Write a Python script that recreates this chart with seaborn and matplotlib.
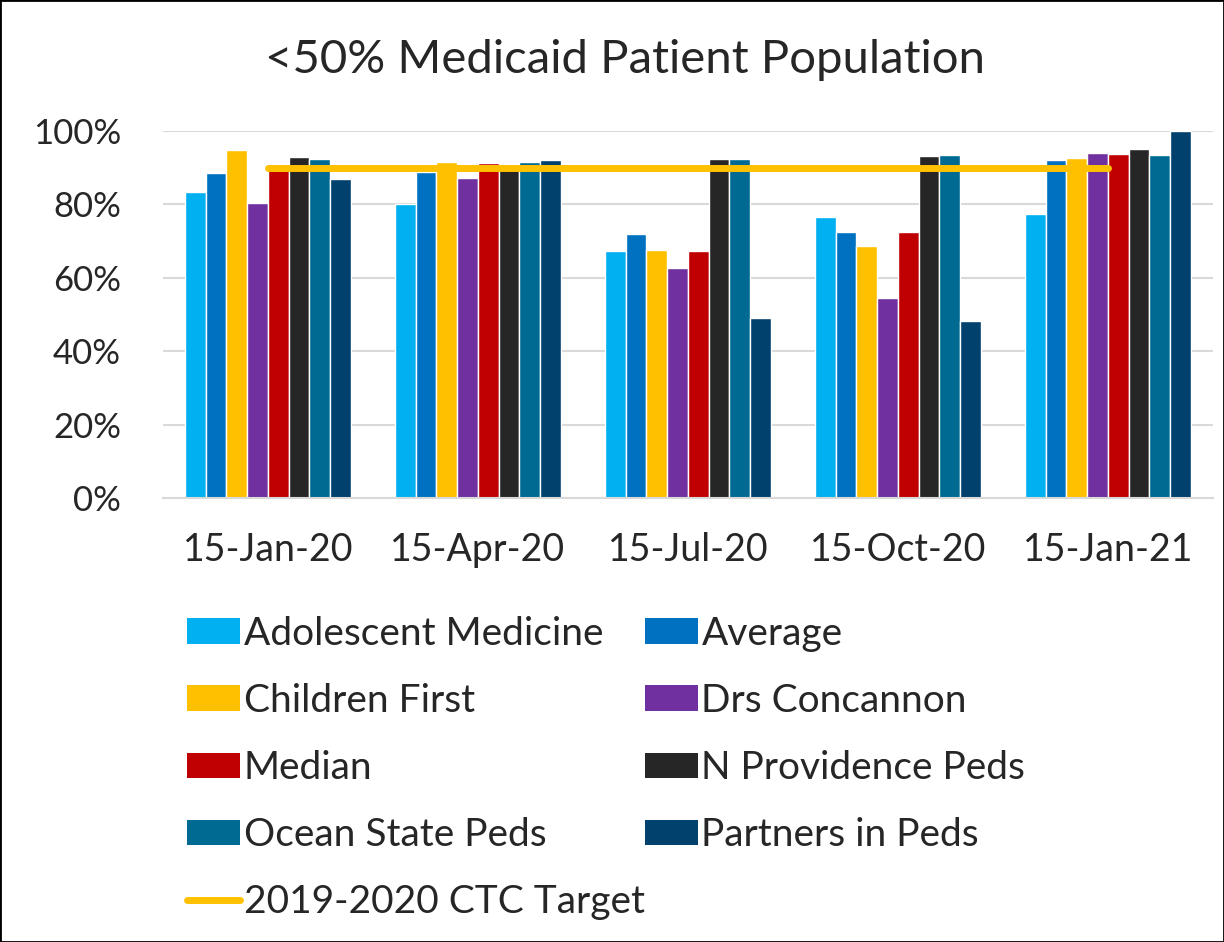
import numpy as np
import pandas as pd
import matplotlib
matplotlib.use("Agg")
import matplotlib.pyplot as plt
import seaborn as sns
from matplotlib.patches import Patch, Rectangle
from matplotlib.lines import Line2D
from matplotlib.ticker import PercentFormatter

dates = ["15-Jan-20", "15-Apr-20", "15-Jul-20", "15-Oct-20", "15-Jan-21"]
practices = [
    "Adolescent Medicine", "Average", "Children First", "Drs Concannon",
    "Median", "N Providence Peds", "Ocean State Peds", "Partners in Peds",
]

adolescent = [0.833, 0.800, 0.673, 0.766, 0.773]
average = [0.885, 0.889, 0.720, 0.724, 0.921]
children_first = [0.949, 0.916, 0.677, 0.688, 0.925]
concannon = [0.804, 0.871, 0.628, 0.546, 0.939]
median = [0.895, 0.912, 0.674, 0.726, 0.938]
n_providence = [0.930, 0.904, 0.924, 0.932, 0.952]
ocean_state = [0.924, 0.915, 0.923, 0.934, 0.935]
partners = [0.870, 0.921, 0.492, 0.483, 1.000]
target = [0.90, 0.90, 0.90, 0.90, 0.90]

colors = ["#00B0F0", "#0070C0", "#FFC000", "#7030A0",
          "#C00000", "#262626", "#006A92", "#00416E"]
target_color = "#FFC000"

series = [adolescent, average, children_first, concannon,
          median, n_providence, ocean_state, partners]
df = pd.DataFrame(
    [(d, p, v) for p, vals in zip(practices, series) for d, v in zip(dates, vals)],
    columns=["date", "practice", "value"],
)

sns.set_style("white")
plt.rcParams["font.family"] = ["Lato", "DejaVu Sans"]

fig = plt.figure(figsize=(12.24, 9.42), dpi=100)
ax = fig.add_axes([0.133, 0.471, 0.858, 0.390])

sns.barplot(
    data=df, x="date", y="value", hue="practice",
    order=dates, hue_order=practices, palette=colors,
    saturation=1, width=0.79, ax=ax, legend=False,
)
ax.plot(np.arange(len(dates)), target, color=target_color, lw=5,
        solid_capstyle="round", zorder=5)

ax.set_ylim(0, 1.0)
ax.set_xlim(-0.5, len(dates) - 0.5)
ax.set_yticks(np.arange(0, 1.01, 0.2))
ax.yaxis.set_major_formatter(PercentFormatter(1.0, decimals=0))
ax.grid(axis="y", color="#D9D9D9", lw=1.5)
ax.set_axisbelow(True)
for s in ["top", "right", "left"]:
    ax.spines[s].set_visible(False)
ax.spines["bottom"].set_color("#D9D9D9")
ax.spines["bottom"].set_linewidth(1.5)
ax.set_xlabel("")
ax.set_ylabel("")
ax.set_xticks(np.arange(-0.5, len(dates), 1.0), minor=True)
ax.tick_params(axis="x", which="minor", length=14, width=1.5, color="#D9D9D9")
ax.tick_params(axis="x", which="major", length=0, pad=24, labelsize=27)
ax.tick_params(axis="y", length=0, pad=30, labelsize=25)

fig.text(0.511, 0.936, "<50% Medicaid Patient Population",
         ha="center", va="center", fontsize=34)

handles = {p: Patch(facecolor=c, edgecolor="none") for p, c in zip(practices, colors)}
tline = Line2D([0], [0], color=target_color, lw=5, solid_capstyle="round")
order_col1 = ["Adolescent Medicine", "Children First", "Median", "Ocean State Peds"]
order_col2 = ["Average", "Drs Concannon", "N Providence Peds", "Partners in Peds"]
leg_handles = [handles[p] for p in order_col1] + [tline] + [handles[p] for p in order_col2]
leg_labels = order_col1 + ["2019-2020 CTC Target"] + order_col2
fig.legend(
    leg_handles, leg_labels, ncol=2, loc="upper left",
    bbox_to_anchor=(0.140, 0.363), frameon=False, fontsize=28,
    handlelength=1.36, handleheight=0.62, handletextpad=0.1,
    columnspacing=0.0, labelspacing=0.80, borderaxespad=0,
)

fig.patches.append(Rectangle((0, 0), 1, 1, transform=fig.transFigure,
                             fill=False, edgecolor="black", lw=2))

fig.savefig("out.png", dpi=100)
